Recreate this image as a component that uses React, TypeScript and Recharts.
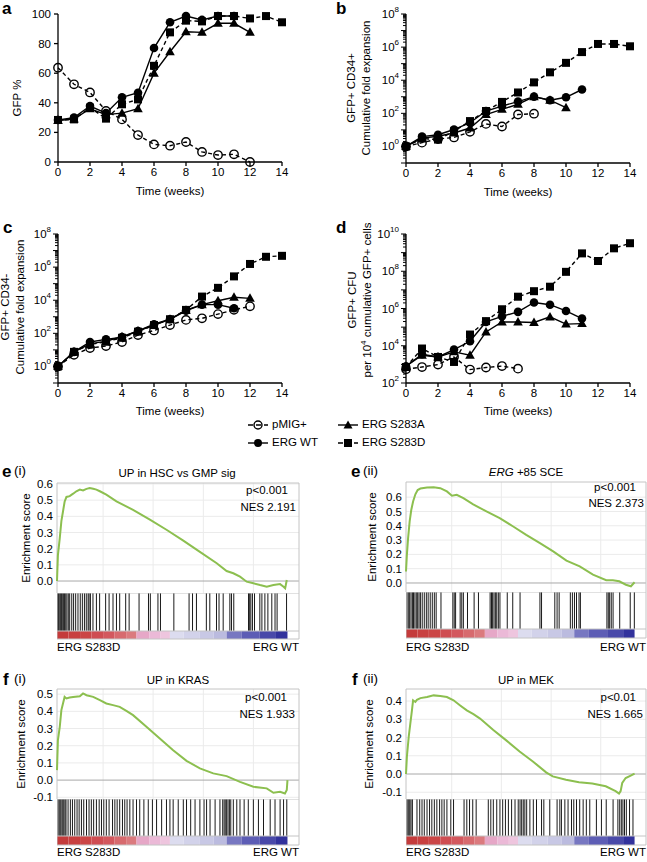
import React from 'react';
import { LineChart, Line, XAxis, YAxis, ReferenceLine, ReferenceArea } from 'recharts';

const FONT = '"Liberation Sans", Arial, Helvetica, sans-serif';
const GREEN = '#8cbf4f';

// ---- panels a-d: time course ----
const weeks = [0, 1, 2, 3, 4, 5, 6, 7, 8, 9, 10, 11, 12, 13, 14];
const weekTicks = [0, 2, 4, 6, 8, 10, 12, 14];

// a: GFP %
const aPmig = [63.7, 52.5, 47, 34.5, 28.8, 18.2, 11.9, 11, 13.5, 6.8, 4.7, 5.2, 0];
const aWt = [28.4, 30, 37.8, 33, 43.7, 46.8, 77, 94.4, 98.6, 96, 98.6, 98.6];
const aS283A = [28, 29, 36, 32, 33, 36, 60, 74.5, 88, 87.6, 93.7, 93.7, 87.6];
const aS283D = [28.4, 28.8, 36.7, 29.3, 39, 42.3, 65, 87.6, 95.5, 95, 98.6, 98.6, 97, 98.6, 94.4];
const aTicks = [0, 20, 40, 60, 80, 100];

// b: GFP+ CD34+ cumulative fold expansion
const bPmig = [1, 1.7, 2.8, 3.5, 7.6, 23, 16, 85, 95];
const bWt = [1, 3.9, 5.1, 10.5, 27, 138, 275, 510, 1020, 620, 930, 2750];
const bS283A = [1, 3.2, 4.1, 6.5, 13, 85, 174, 355, 1020, 620, 220];
const bS283D = [1, 3.0, 2.6, 8.3, 34, 138, 490, 1820, 7400, 30000, 112000, 500000, 1550000, 1550000, 1120000];

// c: GFP+ CD34- cumulative fold expansion
const cPmig = [1, 5.1, 13, 17, 30, 78, 150, 316, 650, 810, 1450, 2650, 4250];
const cWt = [1, 7.6, 30, 43, 59, 138, 355, 710, 2300, 5400, 5400, 3300];
const cS283A = [1, 7.6, 23, 34, 62, 138, 316, 710, 2500, 5400, 9300, 15000, 13000];
const cS283D = [1, 7.6, 21, 31, 54, 126, 316, 710, 2600, 16600, 56000, 275000, 1550000, 4200000, 4800000];

// d: GFP+ CFU per 10^4 cumulative GFP+ cells
const dPmig = [550, 720, 980, 2500, 525, 680, 810, 590];
const dWt = [790, 3500, 2500, 6200, 17400, 190000, 380000, 660000, 2100000, 1600000, 740000, 290000];
const dS283A = [790, 3100, 2500, 4700, 3100, 55000, 190000, 190000, 178000, 355000, 145000, 155000];
const dS283D = [720, 7100, 2500, 1350, 40000, 210000, 910000, 4300000, 8500000, 14800000, 93000000, 910000000, 355000000, 1700000000, 3200000000];

// ---- panels e-f: GSEA (rank in % of ranked list) ----
const eiRank = [0, 0.4, 1.2, 1.9, 2.6, 3.3, 4.1, 5.5, 7.0, 8.4, 9.9, 11.3, 12.8, 14.2, 15.7, 17.1, 18.6, 21.4, 25.8, 33.0, 40.3, 47.5, 54.8, 62.0, 69.3, 73.6, 76.5, 79.4, 82.3, 85.2, 88.1, 91.0, 93.9, 96.8, 98.3, 99.0, 99.7];
const eiEs = [0, 0.16, 0.265, 0.37, 0.43, 0.49, 0.52, 0.525, 0.54, 0.555, 0.565, 0.56, 0.57, 0.575, 0.57, 0.565, 0.555, 0.534, 0.493, 0.44, 0.38, 0.317, 0.25, 0.18, 0.11, 0.062, 0.048, 0.027, -0.004, -0.014, -0.025, -0.035, -0.025, -0.019, -0.035, -0.045, 0.006];
const eiHits = [0.3, 0.7, 1.2, 1.6, 2.0, 2.5, 2.9, 3.3, 3.8, 4.3, 4.9, 5.5, 6.4, 7.2, 8.1, 9.1, 10.1, 11.0, 11.9, 12.7, 13.5, 13.9, 14.5, 15.6, 17.1, 18.5, 21.1, 22.6, 24.3, 25.8, 27.2, 29.8, 31.3, 35.6, 39.7, 40.5, 43.8, 44.9, 50.7, 57.3, 58.8, 60.5, 64.8, 66.3, 69.2, 70.3, 72.1, 75.0, 75.7, 76.7, 83.1, 83.6, 84.1, 84.8, 85.7, 88.0, 88.9, 90.2, 91.5, 93.2, 94.6, 95.5, 99.6];

const eiiRank = [0, 0.4, 0.9, 1.6, 2.3, 3.1, 4.1, 5.1, 6.3, 9.2, 12.1, 15.0, 17.9, 20.1, 22.2, 25.1, 29.4, 35.2, 41.0, 46.9, 52.6, 58.6, 64.4, 70.2, 76.0, 81.8, 87.6, 90.5, 93.3, 96.2, 98.4, 100];
const eiiEs = [0.08, 0.2, 0.31, 0.43, 0.51, 0.57, 0.62, 0.65, 0.66, 0.667, 0.67, 0.663, 0.64, 0.61, 0.616, 0.593, 0.55, 0.5, 0.453, 0.395, 0.337, 0.279, 0.221, 0.156, 0.116, 0.058, 0.019, 0.019, 0.012, -0.012, -0.023, 0.005];
const eiiHits = [0.4, 1.0, 1.6, 2.2, 2.8, 3.3, 3.9, 4.5, 5.1, 5.7, 6.3, 7.1, 8.0, 8.9, 9.7, 10.6, 11.5, 12.4, 13.2, 15.3, 20.5, 21.1, 21.7, 23.7, 24.4, 25.1, 26.9, 29.8, 31.7, 36.8, 37.4, 37.9, 38.5, 39.1, 39.7, 40.4, 41.1, 44.3, 46.7, 49.9, 58.6, 59.3, 65.1, 66.1, 67.0, 71.9, 72.8, 73.7, 74.6, 75.7, 76.3, 87.9, 88.5, 89.1, 89.8, 90.6, 93.5, 98.1, 99.9];

const fiRank = [0, 0.4, 1.2, 1.9, 2.6, 3.3, 4.1, 5.5, 7.0, 9.9, 11.3, 12.8, 15.7, 18.6, 21.4, 24.3, 27.2, 30.1, 33.0, 38.8, 44.6, 50.4, 56.2, 62.0, 67.8, 73.6, 79.4, 85.2, 91.0, 93.9, 96.8, 98.9, 99.7, 100];
const fiEs = [0.058, 0.233, 0.31, 0.407, 0.446, 0.484, 0.475, 0.48, 0.484, 0.488, 0.504, 0.494, 0.484, 0.465, 0.446, 0.436, 0.426, 0.403, 0.378, 0.31, 0.242, 0.174, 0.112, 0.068, 0.039, 0.023, -0.01, -0.039, -0.048, -0.074, -0.068, -0.078, -0.058, 0];
const fiHits = [0.4, 0.9, 1.3, 1.7, 2.2, 2.6, 3.0, 3.5, 3.9, 4.8, 5.8, 6.7, 7.7, 8.7, 9.6, 10.6, 11.6, 12.8, 13.9, 14.9, 15.9, 17.1, 18.3, 19.3, 20.3, 21.4, 22.6, 24.1, 25.1, 26.1, 27.2, 28.4, 29.4, 30.4, 31.6, 33.0, 34.5, 35.9, 37.7, 39.6, 41.4, 43.2, 45.4, 47.5, 49.0, 50.4, 52.6, 54.8, 56.2, 58.0, 59.9, 62.0, 63.8, 64.9, 66.4, 68.6, 70.7, 71.9, 72.5, 73.0, 73.6, 74.2, 74.8, 75.4, 76.5, 78.0, 79.4, 81.2, 83.0, 85.2, 87.4, 89.6, 92.5, 94.6, 96.8, 98.3, 99.7];

const fiiRank = [0, 0.4, 1.2, 1.9, 2.6, 3.1, 4.1, 4.8, 6.3, 9.2, 12.1, 15.0, 17.9, 20.8, 23.7, 26.6, 29.5, 32.4, 38.2, 44.0, 49.7, 55.5, 61.3, 64.2, 70.0, 75.7, 81.5, 87.4, 91.7, 93.2, 93.9, 94.6, 96.1, 98.3, 100];
const fiiEs = [0, 0.096, 0.205, 0.277, 0.349, 0.404, 0.395, 0.407, 0.416, 0.422, 0.431, 0.427, 0.422, 0.404, 0.376, 0.349, 0.328, 0.304, 0.241, 0.183, 0.123, 0.069, 0.009, -0.013, -0.031, -0.045, -0.052, -0.067, -0.094, -0.107, -0.094, -0.049, -0.022, -0.009, 0.002];
const fiiHits = [0.4, 0.9, 1.3, 1.7, 2.2, 2.8, 4.8, 6.0, 7.0, 8.0, 9.2, 10.3, 11.3, 12.4, 13.5, 14.7, 15.7, 16.7, 17.9, 19.6, 20.8, 25.4, 26.6, 27.8, 29.2, 30.7, 36.0, 37.1, 38.2, 39.7, 41.1, 42.3, 43.5, 44.8, 46.2, 47.7, 49.1, 49.9, 50.6, 51.3, 52.0, 52.8, 54.2, 55.7, 57.1, 59.3, 60.3, 62.9, 66.1, 67.3, 68.0, 69.5, 70.9, 72.4, 73.4, 74.6, 76.0, 77.5, 78.9, 80.4, 83.3, 85.5, 87.6, 90.6, 92.7, 93.5, 94.2, 94.9, 95.6, 96.4, 97.8, 99.3];

// ranked-list colour bar
const barEdges = [0, 5, 10, 15, 20, 25, 30, 34.5, 40, 45, 49, 55, 62, 68, 73.6, 80, 88, 95, 100];
const barColors = ['#c43b3b', '#c84040', '#cb4646', '#cf4d52', '#d3585e', '#d76a6e', '#db7a7e', '#e6a7c7', '#ebb9d7', '#eec5de', '#dcdcef', '#d2d2ea', '#c8c8e5', '#bbbbdf', '#7777c1', '#5d5db5', '#4949a9', '#32329c'];
const gridX = [20, 41.7, 63.5, 85.2];

function timeRows(p: number[], w: number[], a: number[], d: number[]) {
  return weeks.map((t, i) => ({
    t,
    pmig: p[i] ?? null,
    wt: w[i] ?? null,
    s283a: a[i] ?? null,
    s283d: d[i] ?? null,
  }));
}

function logTicks(lo: number, hi: number) {
  const out: number[] = [];
  for (let e = lo; e < hi; e++) for (let m = 1; m < 10; m++) out.push(m * Math.pow(10, e));
  out.push(Math.pow(10, hi));
  return out;
}

const openDot = (p: any) =>
  p.cy == null || p.value == null ? <g key={'o' + p.index} /> : (
    <circle key={'o' + p.index} cx={p.cx} cy={p.cy} r={4.2} fill="none" stroke="#000" strokeWidth={1.4} />
  );
const circleDot = (p: any) =>
  p.cy == null || p.value == null ? <g key={'c' + p.index} /> : (
    <circle key={'c' + p.index} cx={p.cx} cy={p.cy} r={4.3} fill="#000" />
  );
const triDot = (p: any) =>
  p.cy == null || p.value == null ? <g key={'t' + p.index} /> : (
    <polygon key={'t' + p.index} points={`${p.cx},${p.cy - 5} ${p.cx - 4.8},${p.cy + 3.5} ${p.cx + 4.8},${p.cy + 3.5}`} fill="#000" />
  );
const squareDot = (p: any) =>
  p.cy == null || p.value == null ? <g key={'s' + p.index} /> : (
    <rect key={'s' + p.index} x={p.cx - 4} y={p.cy - 4} width={8} height={8} fill="#000" />
  );

const makeLogTick = (labelExps: number[]) => (props: any) => {
  const { x, y, payload, index } = props;
  const e = Math.log10(payload.value);
  const re = Math.round(e);
  const major = Math.abs(e - re) < 1e-6;
  return (
    <g key={'lt' + index}>
      <line x1={x - (major ? 5 : 3)} x2={x} y1={y} y2={y} stroke="#000" strokeWidth={1} />
      {major && labelExps.includes(re) && (
        <text x={x - 7} y={y + 4} textAnchor="end" fontSize={11.5} fill="#000" fontFamily={FONT}>
          10<tspan fontSize={8} dy={-6}>{re}</tspan>
        </text>
      )}
    </g>
  );
};

const axisStyle = { stroke: '#000', strokeWidth: 1.3 };
const tickStyle = { fill: '#000', fontSize: 11.5, fontFamily: FONT };

function TimeChart(props: {
  x0: number; y0: number; w: number; h: number;
  pl: number; pt: number; pr: number; pb: number;
  data: any[]; log?: boolean; domain: number[]; ticks: number[]; labelExps?: number[];
}) {
  const { x0, y0, w, h, pl, pt, pr, pb, data, log, domain, ticks, labelExps } = props;
  return (
    <div style={{ position: 'absolute', left: x0, top: y0 }}>
      <LineChart width={w} height={h} data={data} margin={{ top: pt - y0, right: x0 + w - pr, bottom: 0, left: 0 }}>
        <XAxis
          dataKey="t"
          type="number"
          domain={[0, 14]}
          ticks={weekTicks}
          interval={0}
          height={y0 + h - pb}
          axisLine={axisStyle}
          tickLine={axisStyle}
          tickSize={4}
          tickMargin={2}
          tick={tickStyle}
        />
        {log ? (
          <YAxis
            type="number"
            scale="log"
            domain={domain}
            ticks={ticks}
            interval={0}
            allowDataOverflow
            width={pl - x0}
            axisLine={axisStyle}
            tickLine={false}
            tickSize={0}
            tickMargin={0}
            tick={makeLogTick(labelExps || [])}
          />
        ) : (
          <YAxis
            type="number"
            domain={domain}
            ticks={ticks}
            interval={0}
            width={pl - x0}
            axisLine={axisStyle}
            tickLine={axisStyle}
            tickSize={4}
            tickMargin={3}
            tick={tickStyle}
          />
        )}
        <Line dataKey="pmig" stroke="#000" strokeWidth={1.4} strokeDasharray="4 3" dot={openDot} activeDot={false} isAnimationActive={false} />
        <Line dataKey="wt" stroke="#000" strokeWidth={1.4} dot={circleDot} activeDot={false} isAnimationActive={false} />
        <Line dataKey="s283a" stroke="#000" strokeWidth={1.4} dot={triDot} activeDot={false} isAnimationActive={false} />
        <Line dataKey="s283d" stroke="#000" strokeWidth={1.4} strokeDasharray="4 3" dot={squareDot} activeDot={false} isAnimationActive={false} />
      </LineChart>
    </div>
  );
}

const FRAME = '#c4c4c4';

function Gsea(props: {
  pl: number; pr: number; esTop: number; esBottom: number; hitsBottom: number; barBottom: number;
  rank: number[]; es: number[]; hits: number[]; domain: number[]; ticks: number[];
}) {
  const { pl, pr, esTop, esBottom, hitsBottom, barBottom, rank, es, hits, domain, ticks } = props;
  const pw = pr - pl;
  const hitsH = barBottom - esBottom;
  const barFrac = (barBottom - hitsBottom) / hitsH;
  const esRows = rank.map((x, i) => ({ x, es: es[i] }));
  const hitRows = hits.map((x) => ({ x, y: 0.5 }));
  return (
    <>
      <div style={{ position: 'absolute', left: pl - 40, top: esTop - 6 }}>
        <LineChart width={pw + 41} height={esBottom - esTop + 12} data={esRows} margin={{ top: 6, right: 1, bottom: 6, left: 0 }}>
          <XAxis dataKey="x" type="number" domain={[0, 105]} hide />
          <YAxis
            type="number"
            domain={domain}
            ticks={ticks}
            interval={0}
            allowDataOverflow
            width={40}
            axisLine={false}
            tickLine={false}
            tickSize={0}
            tickMargin={4}
            tick={tickStyle}
            tickFormatter={(v: number) => v.toFixed(1)}
          />
          {gridX.map((g) => (
            <ReferenceLine key={'gx' + g} x={g} stroke="#ebebeb" />
          ))}
          {ticks.filter((t) => t !== 0).map((t) => (
            <ReferenceLine key={'gy' + t} y={t} stroke="#ebebeb" />
          ))}
          <ReferenceLine y={0} stroke="#a8a8a8" />
          <ReferenceLine x={0} stroke={FRAME} />
          <ReferenceLine x={105} stroke={FRAME} />
          <ReferenceLine y={domain[1]} stroke={FRAME} />
          <Line dataKey="es" type="linear" stroke={GREEN} strokeWidth={2} dot={false} activeDot={false} isAnimationActive={false} />
        </LineChart>
      </div>
      <div style={{ position: 'absolute', left: pl, top: esBottom }}>
        <LineChart width={pw + 1} height={hitsH + 1} data={hitRows} margin={{ top: 0, right: 1, bottom: 1, left: 0 }}>
          <XAxis dataKey="x" type="number" domain={[0, 105]} hide />
          <YAxis type="number" domain={[0, 1]} hide />
          <Line dataKey="y" stroke="none" dot={false} activeDot={false} isAnimationActive={false} />
          {barColors.map((c, i) => (
            <ReferenceArea key={'bar' + i} x1={barEdges[i]} x2={barEdges[i + 1]} y1={0} y2={barFrac} fill={c} fillOpacity={1} stroke="none" />
          ))}
          {hits.map((h, i) => (
            <ReferenceLine key={'hit' + i} segment={[{ x: h, y: barFrac }, { x: h, y: 1 }]} stroke="#1a1a1a" strokeWidth={1} />
          ))}
          <ReferenceLine y={barFrac} stroke={FRAME} />
          <ReferenceLine y={1} stroke={FRAME} />
          <ReferenceLine y={0} stroke={FRAME} />
          <ReferenceLine x={0} stroke={FRAME} />
          <ReferenceLine x={105} stroke={FRAME} />
        </LineChart>
      </div>
    </>
  );
}

function Txt(props: { x: number; y: number; anchor?: 'start' | 'middle' | 'end'; size?: number; bold?: boolean; children: React.ReactNode }) {
  const { x, y, anchor = 'start', size = 11.5, bold, children } = props;
  const tx = anchor === 'start' ? '0' : anchor === 'middle' ? '-50%' : '-100%';
  return (
    <div style={{ position: 'absolute', left: x, top: y, transform: `translate(${tx}, -50%)`, fontSize: size, fontWeight: bold ? 'bold' : 'normal', whiteSpace: 'nowrap', lineHeight: 1 }}>
      {children}
    </div>
  );
}

function VTxt(props: { x: number; y: number; size?: number; children: React.ReactNode }) {
  const { x, y, size = 11.5, children } = props;
  return (
    <div style={{ position: 'absolute', left: x, top: y, transform: 'translate(-50%, -50%) rotate(-90deg)', fontSize: size, whiteSpace: 'nowrap', lineHeight: 1 }}>
      {children}
    </div>
  );
}

const legendItems = [
  { name: 'pMIG+', dash: true, mark: 'open', x: 248, y: 425 },
  { name: 'ERG S283A', dash: false, mark: 'tri', x: 338, y: 425 },
  { name: 'ERG WT', dash: false, mark: 'circle', x: 248, y: 443 },
  { name: 'ERG S283D', dash: true, mark: 'square', x: 338, y: 443 },
];

function LegendIcon({ dash, mark }: { dash: boolean; mark: string }) {
  return (
    <svg width={20} height={12} style={{ display: 'block' }}>
      <line x1={0} x2={20} y1={6} y2={6} stroke="#000" strokeWidth={1.4} strokeDasharray={dash ? '5 3' : undefined} />
      {mark === 'open' && <circle cx={10} cy={6} r={4} fill="none" stroke="#000" strokeWidth={1.4} />}
      {mark === 'circle' && <circle cx={10} cy={6} r={4} fill="#000" />}
      {mark === 'tri' && <polygon points="10,1.5 5.5,9.5 14.5,9.5" fill="#000" />}
      {mark === 'square' && <rect x={6} y={2} width={8} height={8} fill="#000" />}
    </svg>
  );
}

export default function App() {
  const aData = timeRows(aPmig, aWt, aS283A, aS283D);
  const bData = timeRows(bPmig, bWt, bS283A, bS283D);
  const cData = timeRows(cPmig, cWt, cS283A, cS283D);
  const dData = timeRows(dPmig, dWt, dS283A, dS283D);
  const bcTicks = logTicks(-1, 8);
  const dTicks = logTicks(2, 10);

  return (
    <div style={{ position: 'absolute', left: 0, top: 0, width: 647, height: 862, background: '#fff', fontFamily: FONT, color: '#000', overflow: 'hidden' }}>
      {/* a */}
      <TimeChart x0={0} y0={0} w={300} h={200} pl={58} pt={14} pr={282} pb={162} data={aData} domain={[0, 100]} ticks={aTicks} />
      <Txt x={2} y={8} size={17} bold>a</Txt>
      <VTxt x={18} y={98}>GFP %</VTxt>
      <Txt x={170} y={192} anchor="middle">Time (weeks)</Txt>

      {/* b */}
      <TimeChart x0={320} y0={0} w={327} h={200} pl={406} pt={14} pr={630} pb={163} data={bData} log domain={[0.1, 1e8]} ticks={bcTicks} labelExps={[0, 2, 4, 6, 8]} />
      <Txt x={336} y={8} size={17} bold>b</Txt>
      <VTxt x={352} y={88}>GFP+ CD34+</VTxt>
      <VTxt x={367} y={88}>Cumulative fold expansion</VTxt>
      <Txt x={518} y={193} anchor="middle">Time (weeks)</Txt>

      {/* c */}
      <TimeChart x0={0} y0={210} w={300} h={200} pl={58} pt={234} pr={282} pb={383} data={cData} log domain={[0.1, 1e8]} ticks={bcTicks} labelExps={[0, 2, 4, 6, 8]} />
      <Txt x={3} y={227} size={17} bold>c</Txt>
      <VTxt x={6} y={307}>GFP+ CD34-</VTxt>
      <VTxt x={21} y={307}>Cumulative fold expansion</VTxt>
      <Txt x={170} y={412} anchor="middle">Time (weeks)</Txt>

      {/* d */}
      <TimeChart x0={320} y0={210} w={327} h={200} pl={406} pt={234} pr={630} pb={383} data={dData} log domain={[1e2, 1e10]} ticks={dTicks} labelExps={[2, 4, 6, 8, 10]} />
      <Txt x={336} y={227} size={17} bold>d</Txt>
      <VTxt x={353} y={300}>GFP+ CFU</VTxt>
      <VTxt x={367} y={300}>
        per 10<sup style={{ fontSize: 8 }}>4</sup> cumulative GFP+ cells
      </VTxt>
      <Txt x={518} y={412} anchor="middle">Time (weeks)</Txt>

      {/* legend */}
      {legendItems.map((it) => (
        <div key={it.name} style={{ position: 'absolute', left: it.x, top: it.y, transform: 'translateY(-50%)', display: 'flex', alignItems: 'center', fontSize: 11.5, lineHeight: 1, whiteSpace: 'nowrap' }}>
          <LegendIcon dash={it.dash} mark={it.mark} />
          <span style={{ marginLeft: 4 }}>{it.name}</span>
        </div>
      ))}

      {/* e (i) */}
      <Txt x={2} y={471} size={17} bold>e</Txt>
      <Txt x={14} y={471} size={13.5}>(i)</Txt>
      <Txt x={177} y={474} anchor="middle">UP in HSC vs GMP sig</Txt>
      <VTxt x={27} y={538}>Enrichment score</VTxt>
      <Gsea pl={57} pr={299} esTop={483} esBottom={593} hitsBottom={631} barBottom={639} rank={eiRank} es={eiEs} hits={eiHits} domain={[-0.074, 0.606]} ticks={[0, 0.1, 0.2, 0.3, 0.4, 0.5, 0.6]} />
      <Txt x={288} y={491} anchor="end">p&lt;0.001</Txt>
      <Txt x={296} y={508} anchor="end">NES 2.191</Txt>
      <Txt x={57} y={648}>ERG S283D</Txt>
      <Txt x={299} y={648} anchor="end">ERG WT</Txt>

      {/* e (ii) */}
      <Txt x={351} y={471} size={17} bold>e</Txt>
      <Txt x={363} y={471} size={13.5}>(ii)</Txt>
      <Txt x={526} y={473} anchor="middle">
        <i>ERG</i> +85 SCE
      </Txt>
      <VTxt x={373} y={537}>Enrichment score</VTxt>
      <Gsea pl={406} pr={646} esTop={482} esBottom={592} hitsBottom={629} barBottom={638} rank={eiiRank} es={eiiEs} hits={eiiHits} domain={[-0.063, 0.706]} ticks={[0, 0.1, 0.2, 0.3, 0.4, 0.5, 0.6]} />
      <Txt x={636} y={488} anchor="end">p&lt;0.001</Txt>
      <Txt x={644} y={504} anchor="end">NES 2.373</Txt>
      <Txt x={406} y={648}>ERG S283D</Txt>
      <Txt x={646} y={648} anchor="end">ERG WT</Txt>

      {/* f (i) */}
      <Txt x={3} y={679} size={17} bold>f</Txt>
      <Txt x={14} y={679} size={13.5}>(i)</Txt>
      <Txt x={178} y={681} anchor="middle">UP in KRAS</Txt>
      <VTxt x={22} y={744}>Enrichment score</VTxt>
      <Gsea pl={57} pr={299} esTop={689} esBottom={799} hitsBottom={836} barBottom={845} rank={fiRank} es={fiEs} hits={fiHits} domain={[-0.11, 0.53]} ticks={[-0.1, 0, 0.1, 0.2, 0.3, 0.4, 0.5]} />
      <Txt x={287} y={698} anchor="end">p&lt;0.001</Txt>
      <Txt x={295} y={715} anchor="end">NES 1.933</Txt>
      <Txt x={57} y={853}>ERG S283D</Txt>
      <Txt x={299} y={853} anchor="end">ERG WT</Txt>

      {/* f (ii) */}
      <Txt x={352} y={679} size={17} bold>f</Txt>
      <Txt x={363} y={679} size={13.5}>(ii)</Txt>
      <Txt x={526} y={681} anchor="middle">UP in MEK</Txt>
      <VTxt x={370} y={744}>Enrichment score</VTxt>
      <Gsea pl={406} pr={646} esTop={689} esBottom={799} hitsBottom={836} barBottom={845} rank={fiiRank} es={fiiEs} hits={fiiHits} domain={[-0.137, 0.466]} ticks={[-0.1, 0, 0.1, 0.2, 0.3, 0.4]} />
      <Txt x={636} y={698} anchor="end">p&lt;0.01</Txt>
      <Txt x={643} y={715} anchor="end">NES 1.665</Txt>
      <Txt x={406} y={853}>ERG S283D</Txt>
      <Txt x={646} y={853} anchor="end">ERG WT</Txt>
    </div>
  );
}
